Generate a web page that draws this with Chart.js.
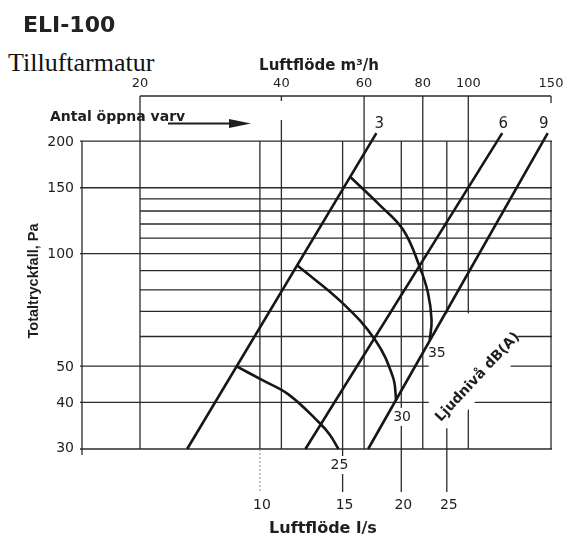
<!DOCTYPE html>
<html lang="sv">
<head>
<meta charset="utf-8">
<title>ELI-100</title>
<script src="https://cdn.jsdelivr.net/npm/chart.js@4.4.1/dist/chart.umd.min.js"></script>
<style>
html,body{margin:0;padding:0;background:#fff;}
#wrap{position:relative;width:587px;height:543px;overflow:hidden;background:#fff;}
#chart{position:absolute;left:0;top:0;}
#model{position:absolute;left:23px;top:14px;font:bold 22px/22px "DejaVu Sans",sans-serif;color:#222;white-space:nowrap;}
#box{position:absolute;left:0;top:40px;width:190px;height:38px;background:#fff;}
#sub{position:absolute;left:8px;top:50px;font:26px/26px "Liberation Serif",serif;color:#111;white-space:nowrap;}
</style>
</head>
<body>
<div id="wrap">
<canvas id="chart" width="587" height="543"></canvas>
<div id="model">ELI-100</div>
<div id="box"></div>
<div id="sub">Tilluftarmatur</div>
</div>
<script>
// ---- data ----
const M3H_PER_LS = 3.6;

const pressureTicks = [30, 40, 50, 100, 150, 200];
const pressureMinorTicks = [60, 70, 80, 90, 110, 120, 130, 140];
const flowLsTicks = [10, 15, 20, 25];
const flowM3hTicks = [20, 40, 60, 80, 100, 150];

const turnsLabels = ['3', '6', '9'];
const turns3Flow = [7.0, 17.7];
const turns3Pressure = [30, 210];
const turns6Flow = [12.5, 32.8];
const turns6Pressure = [30, 210];
const turns9Flow = [17.0, 41.0];
const turns9Pressure = [30, 210];

const soundLabels = ['25', '30', '35'];
const sound25Flow = [8.9, 10.1, 11.5, 13.4, 14.1, 14.7];
const sound25Pressure = [50, 45.9, 42.0, 35.2, 32.7, 30];
const sound30Flow = [12.0, 15.0, 17.6, 19.2, 19.5];
const sound30Pressure = [93, 73.7, 58.7, 46.7, 40.6];
const sound35Flow = [15.6, 18.0, 20.2, 21.9, 22.8, 23.2, 23.0];
const sound35Pressure = [160, 134.8, 115.6, 92, 78.4, 66.4, 58.7];

const titleTopAxis = 'Luftflöde m³/h';
const titleBottomAxis = 'Luftflöde l/s';
const titleLeftAxis = 'Totaltryckfall, Pa';
const turnsCaption = 'Antal öppna varv';
const soundCaption = 'Ljudnivå dB(A)';

// ---- chart ----
function pts(f, p) { return f.map((v, i) => ({ x: v, y: p[i] })); }

const baseStyle = { showLine: true, pointRadius: 0, pointHoverRadius: 0, borderColor: '#161616',
  borderWidth: 2.6, fill: false, clip: false, tension: 0 };

const turnsSeries = [pts(turns3Flow, turns3Pressure), pts(turns6Flow, turns6Pressure), pts(turns9Flow, turns9Pressure)];
const soundSeries = [pts(sound25Flow, sound25Pressure), pts(sound30Flow, sound30Pressure), pts(sound35Flow, sound35Pressure)];

const datasets = [];
turnsSeries.forEach((d, i) => datasets.push(Object.assign({}, baseStyle, { label: turnsLabels[i], data: d })));
soundSeries.forEach((d, i) => datasets.push(Object.assign({}, baseStyle, { label: soundLabels[i] + ' dB(A)', data: d, tension: 0.4 })));

const turnsLabelShift = [[3, -9], [1, -9], [-4, -9]];
const soundLabelShift = [[1, 16], [6, 17], [7, 13]];

function soundLabelPos(chart, i) {
  const s = soundSeries[i][soundSeries[i].length - 1];
  return [chart.scales.x.getPixelForValue(s.x) + soundLabelShift[i][0],
          chart.scales.y.getPixelForValue(s.y) + soundLabelShift[i][1]];
}
function captionCenter(chart) {
  return [chart.scales.x.getPixelForValue(29.1), chart.scales.y.getPixelForValue(46.7)];
}

const nomogram = {
  id: 'nomogram',
  beforeDatasetsDraw(chart) {
    const { ctx, chartArea: ca, scales: { x, x2, y } } = chart;
    const px = v => x.getPixelForValue(v), pm = v => x2.getPixelForValue(v), py = v => y.getPixelForValue(v);
    const seg = (a, b, c, d) => { ctx.beginPath(); ctx.moveTo(a, b); ctx.lineTo(c, d); ctx.stroke(); };
    const yTop = py(200), yBot = py(30), xL = ca.left, xR = pm(150), x20 = pm(20), yAx = ca.top;
    ctx.save();
    ctx.strokeStyle = '#2a2a2a';
    ctx.lineWidth = 1.3;
    pressureTicks.forEach(v => seg(xL - 2, py(v), xR + 1, py(v)));
    pressureMinorTicks.forEach(v => seg(x20, py(v), xR + 1, py(v)));
    seg(xL, yTop, xL, yBot + 6);
    seg(x20, yAx, xR, yAx);
    flowM3hTicks.forEach(v => {
      const p = pm(v);
      if (v === 40) { seg(p, yAx, p, yAx + 5); seg(p, yAx + 24, p, yBot); }
      else if (v === 150) { seg(p, yAx, p, yAx + 7); seg(p, yTop, p, yBot); }
      else seg(p, yAx, p, yBot);
    });
    flowLsTicks.forEach(v => {
      const p = px(v);
      seg(p, yTop, p, yBot);
      if (v === 10) {
        ctx.save(); ctx.setLineDash([2, 2]); ctx.strokeStyle = '#888'; ctx.lineWidth = 1;
        seg(p, yBot, p, yBot + 44); ctx.restore();
      } else seg(p, yBot, p, yBot + 43);
    });
    // white-out areas behind labels
    ctx.fillStyle = '#fff';
    const [cx, cy] = captionCenter(chart);
    const poly = [[-37, -64], [45, -64], [33, -11], [-5, 27], [-25, 51], [-49, 51], [-49, -39]];
    ctx.beginPath();
    poly.forEach(([a, b], k) => k ? ctx.lineTo(cx + a, cy + b) : ctx.moveTo(cx + a, cy + b));
    ctx.closePath();
    ctx.fill();
    ctx.font = '14px "DejaVu Sans"';
    soundLabels.forEach((t, i) => {
      const [lx, ly] = soundLabelPos(chart, i);
      const w = ctx.measureText(t).width;
      ctx.fillRect(lx - w / 2 - 2, ly - 9, w + 4, 18);
    });
    ctx.restore();
  },
  afterDatasetsDraw(chart) {
    const { ctx, chartArea: ca, scales: { x, x2, y } } = chart;
    const px = v => x.getPixelForValue(v), pm = v => x2.getPixelForValue(v), py = v => y.getPixelForValue(v);
    const yBot = py(30), yAx = ca.top, xL = ca.left;
    ctx.save();
    ctx.fillStyle = '#1e1e1e';
    ctx.textAlign = 'center';
    ctx.textBaseline = 'middle';
    // top axis ticks
    ctx.font = '13px "DejaVu Sans"';
    flowM3hTicks.forEach(v => ctx.fillText(String(v), pm(v), yAx - 12));
    // left ticks
    ctx.font = '14px "DejaVu Sans"';
    ctx.textAlign = 'right';
    pressureTicks.forEach(v => ctx.fillText(String(v), xL - 8, py(v) + (v === 30 ? -1 : 1)));
    // bottom ticks
    ctx.textAlign = 'center';
    flowLsTicks.forEach(v => ctx.fillText(String(v), px(v) + 2, yBot + 56));
    // sound labels
    soundLabels.forEach((t, i) => { const [lx, ly] = soundLabelPos(chart, i); ctx.fillText(t, lx, ly); });
    // turns labels
    ctx.font = '15px "DejaVu Sans"';
    turnsSeries.forEach((d, i) => {
      const e = d[d.length - 1];
      ctx.fillText(turnsLabels[i], px(e.x) + turnsLabelShift[i][0], py(e.y) + turnsLabelShift[i][1]);
    });
    // axis titles
    ctx.textBaseline = 'alphabetic';
    ctx.font = 'bold 15px "DejaVu Sans"';
    ctx.fillText(titleTopAxis, 319, yAx - 26);
    ctx.font = 'bold 16px "DejaVu Sans"';
    ctx.fillText(titleBottomAxis, 323, yBot + 84);
    ctx.save();
    ctx.translate(34, 281);
    ctx.rotate(-Math.PI / 2);
    ctx.textBaseline = 'middle';
    ctx.font = 'bold 14.5px "Liberation Sans"';
    ctx.fillText(titleLeftAxis, 0, 0);
    ctx.restore();
    // turns caption + arrow
    ctx.textAlign = 'left';
    ctx.font = 'bold 14px "DejaVu Sans"';
    ctx.fillText(turnsCaption, 50, 121);
    ctx.strokeStyle = '#1e1e1e';
    ctx.lineWidth = 2;
    ctx.beginPath(); ctx.moveTo(168, 123.5); ctx.lineTo(236, 123.5); ctx.stroke();
    ctx.beginPath(); ctx.moveTo(229, 119); ctx.lineTo(251, 123.5); ctx.lineTo(229, 128); ctx.closePath(); ctx.fill();
    // sound caption
    const [cx, cy] = captionCenter(chart);
    ctx.save();
    ctx.translate(cx, cy);
    ctx.rotate(-47 * Math.PI / 180);
    ctx.textAlign = 'center';
    ctx.textBaseline = 'middle';
    ctx.font = 'bold 14px "DejaVu Sans"';
    ctx.fillText(soundCaption, 0, 0);
    ctx.restore();
    ctx.restore();
  }
};

new Chart(document.getElementById('chart'), {
  type: 'scatter',
  data: { datasets },
  options: {
    responsive: false,
    devicePixelRatio: 1,
    animation: false,
    events: [],
    layout: { padding: { left: 82, right: 36, top: 96, bottom: 94 } },
    plugins: { legend: { display: false }, tooltip: { enabled: false }, title: { display: false } },
    scales: {
      x: { type: 'logarithmic', position: 'bottom', display: false, bounds: 'data',
           min: 15.05 / M3H_PER_LS, max: 150 / M3H_PER_LS },
      x2: { type: 'logarithmic', position: 'top', display: false, bounds: 'data', min: 15.05, max: 150 },
      y: { type: 'logarithmic', position: 'left', display: false, bounds: 'data', min: 30, max: 264 }
    }
  },
  plugins: [nomogram]
});
</script>
</body>
</html>
